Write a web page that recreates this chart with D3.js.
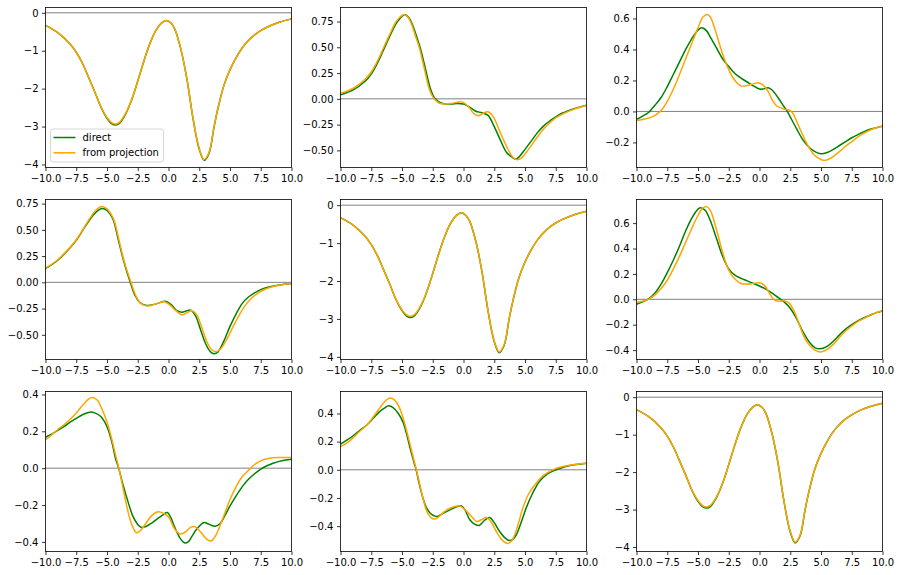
<!DOCTYPE html>
<html>
<head>
<meta charset="utf-8">
<script src="https://cdn.jsdelivr.net/npm/d3@7"></script>
<style>
  html, body { margin: 0; padding: 0; background: #fff; }
  svg { display: block; font-family: "DejaVu Sans", sans-serif; }
</style>
</head>
<body>
<svg id="chart" width="900" height="575"></svg>
<script>
// ---------------- data ----------------
const xTicks = [-10, -7.5, -5, -2.5, 0, 2.5, 5, 7.5, 10];
const seriesNames = ["direct", "from projection"];

// Panels 1, 5, 9 (double-well shape)
const wellDirect = [[-10,-0.33],[-9,-0.52],[-8,-0.82],[-7.5,-1.04],[-7,-1.33],[-6.5,-1.70],[-6,-2.08],[-5.5,-2.48],[-5,-2.78],[-4.6,-2.93],[-4.3,-2.96],[-4,-2.92],[-3.5,-2.68],[-3,-2.30],[-2.5,-1.80],[-2,-1.27],[-1.5,-0.80],[-1,-0.45],[-0.5,-0.25],[-0.15,-0.20],[0.2,-0.27],[0.5,-0.42],[1,-0.95],[1.5,-1.75],[2,-2.80],[2.5,-3.60],[2.9,-3.89],[3.3,-3.70],[3.7,-3.02],[4,-2.55],[4.5,-1.92],[5,-1.50],[5.5,-1.18],[6,-0.92],[6.5,-0.73],[7,-0.58],[7.5,-0.47],[8,-0.38],[9,-0.25],[10,-0.16]];
const wellProj = [[-10,-0.33],[-9,-0.52],[-8,-0.82],[-7.5,-1.04],[-7,-1.33],[-6.5,-1.70],[-6,-2.08],[-5.5,-2.47],[-5,-2.76],[-4.6,-2.90],[-4.3,-2.93],[-4,-2.89],[-3.5,-2.66],[-3,-2.29],[-2.5,-1.80],[-2,-1.27],[-1.5,-0.80],[-1,-0.45],[-0.5,-0.25],[-0.15,-0.20],[0.2,-0.27],[0.5,-0.42],[1,-0.95],[1.5,-1.75],[2,-2.79],[2.5,-3.58],[2.9,-3.87],[3.3,-3.68],[3.7,-3.01],[4,-2.55],[4.5,-1.92],[5,-1.50],[5.5,-1.18],[6,-0.92],[6.5,-0.73],[7,-0.58],[7.5,-0.47],[8,-0.38],[9,-0.25],[10,-0.16]];

const p2Direct = [[-10,0.04],[-9,0.085],[-8,0.17],[-7.5,0.24],[-7,0.345],[-6.5,0.475],[-6,0.605],[-5.5,0.725],[-5,0.80],[-4.75,0.815],[-4.4,0.78],[-4.07,0.695],[-3.8,0.60],[-3.53,0.50],[-3.13,0.31],[-2.72,0.11],[-2.5,0.04],[-2.3,0.0],[-2,-0.03],[-1.6,-0.048],[-1,-0.05],[-0.5,-0.045],[0,-0.05],[0.5,-0.08],[1,-0.12],[1.5,-0.135],[2,-0.16],[2.5,-0.27],[3,-0.40],[3.5,-0.52],[4,-0.57],[4.2,-0.585],[4.5,-0.565],[5,-0.49],[5.5,-0.41],[6,-0.33],[6.5,-0.265],[7,-0.215],[7.5,-0.175],[8,-0.14],[9,-0.095],[10,-0.062]];
const p2Proj = [[-10,0.055],[-9,0.10],[-8,0.19],[-7.5,0.26],[-7,0.365],[-6.5,0.495],[-6,0.625],[-5.5,0.745],[-5,0.81],[-4.82,0.818],[-4.5,0.79],[-4.15,0.70],[-3.88,0.60],[-3.6,0.50],[-3.2,0.30],[-2.8,0.10],[-2.55,0.03],[-2.35,-0.005],[-2,-0.04],[-1.5,-0.05],[-1,-0.045],[-0.5,-0.033],[-0.25,-0.027],[0.1,-0.045],[0.5,-0.09],[0.8,-0.14],[1.2,-0.165],[1.6,-0.14],[2,-0.125],[2.4,-0.17],[3,-0.33],[3.5,-0.46],[4,-0.565],[4.35,-0.59],[4.7,-0.575],[5,-0.535],[5.5,-0.455],[6,-0.37],[6.5,-0.295],[7,-0.235],[7.5,-0.185],[8,-0.15],[9,-0.10],[10,-0.062]];

const p3Direct = [[-10,-0.052],[-9.5,-0.03],[-9,-0.005],[-8.5,0.04],[-8,0.09],[-7.5,0.16],[-7,0.24],[-6.5,0.32],[-6,0.40],[-5.5,0.47],[-5,0.525],[-4.7,0.54],[-4.3,0.52],[-4,0.48],[-3.5,0.41],[-3,0.34],[-2.5,0.29],[-2,0.245],[-1.5,0.215],[-1,0.19],[-0.5,0.165],[0,0.145],[0.3,0.145],[0.7,0.153],[1,0.14],[1.5,0.09],[2,0.03],[2.3,-0.005],[2.5,-0.035],[3,-0.11],[3.5,-0.18],[4,-0.23],[4.5,-0.26],[5,-0.273],[5.5,-0.265],[6,-0.245],[6.5,-0.22],[7,-0.195],[7.5,-0.17],[8,-0.15],[8.5,-0.13],[9,-0.115],[9.5,-0.105],[10,-0.095]];
const p3Proj = [[-10,-0.058],[-9.5,-0.052],[-9,-0.043],[-8.5,-0.025],[-8,0.005],[-7.5,0.065],[-7,0.145],[-6.5,0.24],[-6,0.34],[-5.5,0.44],[-5,0.54],[-4.6,0.61],[-4.25,0.626],[-4,0.61],[-3.5,0.50],[-3,0.37],[-2.5,0.27],[-2,0.20],[-1.5,0.165],[-1,0.167],[-0.5,0.178],[-0.1,0.185],[0.3,0.17],[0.7,0.13],[1,0.08],[1.4,0.035],[2,0.015],[2.4,0.01],[2.7,-0.01],[3,-0.06],[3.5,-0.15],[4,-0.23],[4.5,-0.285],[5,-0.31],[5.3,-0.316],[5.7,-0.305],[6,-0.29],[6.5,-0.26],[7,-0.225],[7.5,-0.195],[8,-0.165],[8.5,-0.14],[9,-0.12],[9.5,-0.105],[10,-0.095]];

const p4Direct = [[-10,0.13],[-9,0.21],[-8,0.33],[-7.5,0.40],[-7,0.49],[-6.5,0.58],[-6,0.655],[-5.6,0.695],[-5.35,0.703],[-5,0.685],[-4.75,0.65],[-4.47,0.59],[-4.07,0.40],[-3.66,0.21],[-3.11,0.0],[-2.7,-0.13],[-2.3,-0.195],[-1.76,-0.22],[-1,-0.205],[-0.27,-0.18],[0.2,-0.21],[0.68,-0.27],[1.1,-0.285],[1.5,-0.27],[1.8,-0.265],[2.2,-0.32],[2.6,-0.45],[3,-0.58],[3.4,-0.66],[3.7,-0.68],[4,-0.665],[4.5,-0.56],[5,-0.42],[5.5,-0.30],[6,-0.20],[6.5,-0.14],[7,-0.10],[7.5,-0.07],[8,-0.05],[9,-0.025],[10,-0.01]];
const p4Proj = [[-10,0.135],[-9,0.215],[-8,0.335],[-7.5,0.405],[-7,0.495],[-6.5,0.59],[-6,0.675],[-5.6,0.715],[-5.4,0.722],[-5,0.70],[-4.7,0.655],[-4.42,0.59],[-4.02,0.40],[-3.6,0.20],[-3.05,0.0],[-2.6,-0.14],[-2.2,-0.205],[-1.7,-0.225],[-1,-0.205],[-0.35,-0.185],[0.1,-0.215],[0.6,-0.27],[1.1,-0.31],[1.5,-0.29],[1.9,-0.27],[2.3,-0.31],[2.7,-0.43],[3.1,-0.56],[3.5,-0.64],[3.9,-0.66],[4.3,-0.625],[4.8,-0.53],[5.3,-0.41],[5.8,-0.30],[6.3,-0.21],[6.8,-0.145],[7.3,-0.10],[7.8,-0.068],[8.5,-0.04],[9.3,-0.02],[10,-0.01]];

const p6Direct = [[-10,-0.04],[-9.5,-0.02],[-9,0.005],[-8.5,0.05],[-8,0.12],[-7.5,0.21],[-7,0.31],[-6.5,0.42],[-6,0.54],[-5.5,0.64],[-5,0.71],[-4.75,0.72],[-4.4,0.70],[-4,0.62],[-3.5,0.48],[-3,0.34],[-2.5,0.24],[-2,0.19],[-1.5,0.165],[-1,0.145],[-0.5,0.125],[0,0.105],[0.5,0.08],[1,0.05],[1.5,0.015],[2,-0.02],[2.5,-0.07],[3,-0.15],[3.5,-0.25],[4,-0.33],[4.5,-0.38],[4.9,-0.39],[5.5,-0.37],[6,-0.33],[6.5,-0.28],[7,-0.235],[7.5,-0.20],[8,-0.17],[8.5,-0.145],[9,-0.125],[9.5,-0.105],[10,-0.092]];
const p6Proj = [[-10,-0.025],[-9.5,-0.015],[-9,0.002],[-8.5,0.035],[-8,0.085],[-7.5,0.15],[-7,0.24],[-6.5,0.34],[-6,0.45],[-5.5,0.56],[-5,0.66],[-4.6,0.72],[-4.3,0.73],[-4,0.70],[-3.5,0.55],[-3,0.37],[-2.5,0.23],[-2,0.16],[-1.5,0.125],[-1,0.12],[-0.5,0.125],[0,0.13],[0.4,0.11],[0.8,0.05],[1.2,-0.005],[1.6,-0.015],[2,-0.012],[2.4,-0.03],[2.8,-0.09],[3.2,-0.19],[3.6,-0.29],[4,-0.355],[4.5,-0.40],[5,-0.415],[5.5,-0.395],[6,-0.355],[6.5,-0.30],[7,-0.25],[7.5,-0.21],[8,-0.175],[8.5,-0.15],[9,-0.125],[9.5,-0.105],[10,-0.088]];

const p7Direct = [[-10,0.168],[-9.5,0.185],[-9,0.205],[-8.5,0.225],[-8,0.25],[-7.5,0.27],[-7,0.29],[-6.4,0.304],[-6,0.30],[-5.5,0.28],[-5,0.225],[-4.6,0.14],[-4.3,0.05],[-4.05,0.0],[-3.7,-0.09],[-3.3,-0.18],[-2.9,-0.26],[-2.5,-0.305],[-2.2,-0.322],[-1.8,-0.315],[-1.3,-0.295],[-0.8,-0.27],[-0.4,-0.25],[-0.1,-0.24],[0.2,-0.27],[0.5,-0.32],[0.9,-0.375],[1.3,-0.405],[1.6,-0.40],[1.9,-0.37],[2.3,-0.33],[2.9,-0.295],[3.3,-0.305],[3.8,-0.315],[4.2,-0.30],[4.6,-0.255],[5,-0.205],[5.5,-0.15],[6,-0.10],[6.5,-0.06],[7,-0.03],[7.5,-0.005],[8,0.013],[8.5,0.027],[9,0.037],[9.5,0.044],[10,0.049]];
const p7Proj = [[-10,0.154],[-9.5,0.18],[-9,0.21],[-8.5,0.235],[-8,0.265],[-7.5,0.30],[-7,0.34],[-6.5,0.375],[-6.2,0.384],[-5.8,0.37],[-5.4,0.32],[-5,0.25],[-4.6,0.155],[-4.3,0.07],[-4,-0.01],[-3.6,-0.14],[-3.2,-0.26],[-2.9,-0.32],[-2.6,-0.35],[-2.3,-0.34],[-1.9,-0.305],[-1.4,-0.26],[-0.85,-0.236],[-0.4,-0.245],[0,-0.265],[0.5,-0.33],[0.95,-0.357],[1.4,-0.345],[1.8,-0.32],[2.15,-0.317],[2.6,-0.345],[3.1,-0.385],[3.45,-0.395],[3.8,-0.37],[4.2,-0.31],[4.6,-0.24],[5,-0.17],[5.5,-0.10],[6,-0.045],[6.5,-0.012],[7,0.02],[7.5,0.04],[8,0.051],[8.5,0.057],[9,0.058],[10,0.058]];

const p8Direct = [[-10,0.182],[-9.5,0.21],[-9,0.24],[-8.5,0.275],[-7.84,0.32],[-7.3,0.37],[-6.8,0.415],[-6.4,0.44],[-6.09,0.454],[-5.7,0.44],[-5.3,0.40],[-4.9,0.335],[-4.6,0.245],[-4.3,0.14],[-4,0.045],[-3.85,0.0],[-3.6,-0.10],[-3.3,-0.20],[-3,-0.27],[-2.7,-0.308],[-2.4,-0.326],[-2.15,-0.332],[-1.6,-0.305],[-1.1,-0.284],[-0.6,-0.265],[-0.16,-0.256],[0.15,-0.29],[0.51,-0.355],[0.9,-0.385],[1.27,-0.395],[1.7,-0.36],[2.13,-0.339],[2.5,-0.375],[2.94,-0.438],[3.4,-0.485],[3.75,-0.502],[4.05,-0.49],[4.29,-0.462],[4.7,-0.37],[5.09,-0.272],[5.6,-0.17],[6.17,-0.083],[6.8,-0.03],[7.52,0.0],[8,0.015],[8.5,0.027],[9,0.036],[9.5,0.042],[10,0.047]];
const p8Proj = [[-10,0.165],[-9.5,0.19],[-9,0.225],[-8.5,0.268],[-7.84,0.32],[-7.3,0.38],[-6.8,0.44],[-6.4,0.485],[-5.96,0.509],[-5.6,0.495],[-5.2,0.44],[-4.8,0.335],[-4.5,0.235],[-4.2,0.13],[-3.9,0.025],[-3.8,-0.01],[-3.5,-0.125],[-3.26,-0.215],[-3,-0.29],[-2.7,-0.335],[-2.4,-0.35],[-2.1,-0.34],[-1.6,-0.30],[-1.1,-0.272],[-0.6,-0.258],[-0.3,-0.256],[0.2,-0.29],[0.78,-0.343],[1.05,-0.367],[1.45,-0.355],[1.86,-0.339],[2.25,-0.37],[2.67,-0.438],[3.2,-0.505],[3.61,-0.523],[3.95,-0.50],[4.4,-0.40],[4.82,-0.272],[5.3,-0.17],[5.9,-0.095],[6.5,-0.04],[7.25,0.0],[8,0.022],[8.5,0.031],[9,0.038],[9.5,0.043],[10,0.047]];

// y-axis settings per panel (row-major order)
const yDomains = [[-4.08,0.14],[-0.666,0.886],[-0.362,0.671],[-0.735,0.789],[-4.07,0.15],[-0.474,0.786],[-0.452,0.416],[-0.58,0.556],[-4.12,0.152]];
const yTicks = [
  [0,-1,-2,-3,-4],
  [0.75,0.5,0.25,0,-0.25,-0.5],
  [0.6,0.4,0.2,0,-0.2],
  [0.75,0.5,0.25,0,-0.25,-0.5],
  [0,-1,-2,-3,-4],
  [0.6,0.4,0.2,0,-0.2,-0.4],
  [0.4,0.2,0,-0.2,-0.4],
  [0.4,0.2,0,-0.2,-0.4],
  [0,-1,-2,-3,-4]
];
const yFormats = ["d",".2f",".1f",".2f","d",".1f",".1f",".1f","d"];
const directSeries = [wellDirect,p2Direct,p3Direct,p4Direct,wellDirect,p6Direct,p7Direct,p8Direct,wellDirect];
const projSeries = [wellProj,p2Proj,p3Proj,p4Proj,wellProj,p6Proj,p7Proj,p8Proj,wellProj];

// ---------------- layout ----------------
const colLeft = [45.5, 340.5, 636.5];
const rowTop = [7.5, 199.5, 391.5];
const axW = 246, axH = 160;
const colors = {direct: "#008000", proj: "#ffa500", zero: "#808080"};

const svg = d3.select("#chart");

for (let i = 0; i < 9; i++) {
  const r = Math.floor(i / 3), c = i % 3;
  const g = svg.append("g").attr("transform", `translate(${colLeft[c]},${rowTop[r]})`);
  const x = d3.scaleLinear().domain([-10, 10]).range([0, axW]);
  const y = d3.scaleLinear().domain(yDomains[i]).range([axH, 0]);

  g.append("clipPath").attr("id", "clip" + i)
    .append("rect").attr("width", axW).attr("height", axH);

  const plot = g.append("g").attr("clip-path", `url(#clip${i})`);
  plot.append("line")
    .attr("x1", 0).attr("x2", axW)
    .attr("y1", y(0)).attr("y2", y(0))
    .attr("stroke", colors.zero).attr("stroke-width", 1);

  const line = d3.line().x(d => x(d[0])).y(d => y(d[1])).curve(d3.curveCatmullRom.alpha(0.5));
  plot.append("path").datum(directSeries[i])
    .attr("d", line).attr("fill", "none")
    .attr("stroke", colors.direct).attr("stroke-width", 1.5);
  plot.append("path").datum(projSeries[i])
    .attr("d", line).attr("fill", "none")
    .attr("stroke", colors.proj).attr("stroke-width", 1.5);

  // axes
  const xAxis = d3.axisBottom(x).tickValues(xTicks).tickFormat(d3.format(".1f"))
    .tickSize(3.5).tickPadding(3.5);
  const yAxis = d3.axisLeft(y).tickValues(yTicks[i]).tickFormat(d3.format(yFormats[i]))
    .tickSize(3.5).tickPadding(3.5);
  const gx = g.append("g").attr("transform", `translate(0,${axH})`).call(xAxis);
  const gy = g.append("g").call(yAxis);
  [gx, gy].forEach(a => {
    a.select(".domain").remove();
    a.selectAll("line").attr("stroke", "#000").attr("stroke-width", 0.8);
    a.selectAll("text").attr("fill", "#000")
      .style("font-family", "DejaVu Sans, sans-serif").style("font-size", "10px");
  });

  g.append("rect").attr("width", axW).attr("height", axH)
    .attr("fill", "none").attr("stroke", "#000").attr("stroke-width", 0.8);

  // legend in the first panel
  if (i === 0) {
    const lg = g.append("g").attr("transform", `translate(5,${axH - 38.5})`);
    lg.append("rect").attr("width", 113).attr("height", 33).attr("rx", 2.5)
      .attr("fill", "rgba(255,255,255,0.8)").attr("stroke", "#cccccc").attr("stroke-width", 0.8);
    const items = [colors.direct, colors.proj];
    items.forEach((col, k) => {
      const yy = 8.5 + k * 15.3;
      lg.append("line").attr("x1", 3).attr("x2", 25).attr("y1", yy).attr("y2", yy)
        .attr("stroke", col).attr("stroke-width", 1.5);
      lg.append("text").attr("x", 32).attr("y", yy).attr("dy", "0.35em")
        .style("font-size", "10px").attr("fill", "#000").text(seriesNames[k]);
    });
  }
}
</script>
</body>
</html>
